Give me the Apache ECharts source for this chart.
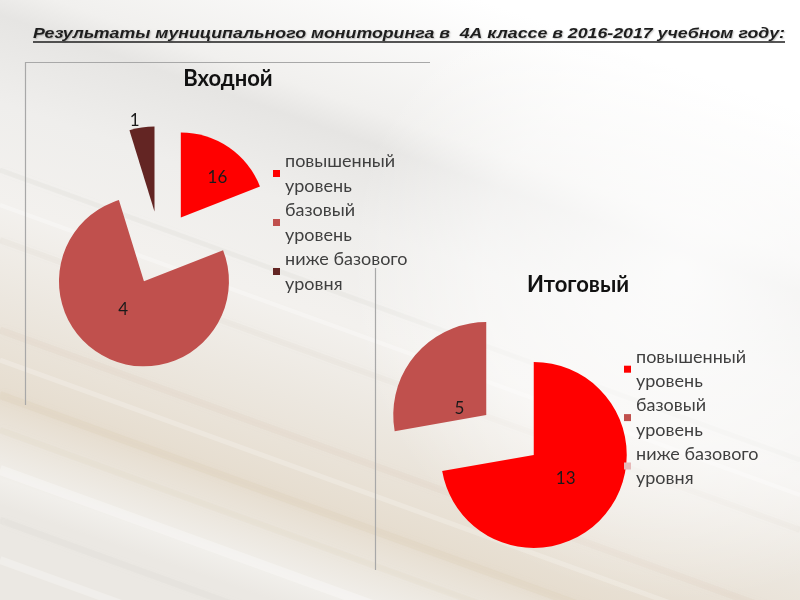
<!DOCTYPE html>
<html>
<head>
<meta charset="utf-8">
<script src="https://cdn.jsdelivr.net/npm/echarts@6/dist/echarts.min.js"></script>
<style>html,body{margin:0;padding:0;}#c{width:800px;height:600px;}</style>
</head>
<body>
<div id="c"></div>
<script>
// ---- data ----
const categories = ['повышенный уровень', 'базовый уровень', 'ниже базового уровня'];
// "Входной": slice sizes as drawn in the picture (the printed labels differ from the drawn sizes)
const inputSliceValues = [4, 16, 1];
const inputLabels = ['16', '4', '1'];
// "Итоговый"
const finalValues = [13, 5, 0];
const finalLabels = ['13', '5', '0'];
const chartTitle = 'Результаты муниципального мониторинга в  4А классе в 2016-2017 учебном году:';
const pieTitles = ['Входной', 'Итоговый'];

// ---- styles ----
const colors1 = ['#ff0000', '#c0504d', '#632523'];
const colors2 = ['#ff0000', '#c0504d', '#e6b9b8'];
const labelOffsets1 = [[11, -2], [-1, -13], [3, -5]];
const labelOffsets2 = [[-6, -8], [11, 25], [0, 0]];
const legendFont = 'Lato, "Open Sans", sans-serif';

function legendName(n) { const i = n.lastIndexOf(' '); return n.slice(0, i) + '\n' + n.slice(i + 1); }

function pieData(values, labels, colors, outsideIdx) {
  return values.map((v, i) => ({
    name: categories[i],
    value: v,
    selected: true,
    itemStyle: { color: colors[i] },
    label: {
      show: v > 0,
      position: i === outsideIdx ? 'outside' : 'inside',
      formatter: labels[i]
    },
    labelLine: { show: false, length: 2, length2: 0 }
  }));
}
function layoutFn(offsets) {
  return function (p) { const o = offsets[p.dataIndex] || [0, 0]; return { dx: o[0], dy: o[1] }; };
}

// measure title to stretch to its width in the picture
const cv = document.createElement('canvas').getContext('2d');
const titleFont = 'italic bold 15px "Liberation Sans", Arial, sans-serif';
cv.font = titleFont;
const tw = cv.measureText(chartTitle).width;
const titleScale = 752 / tw;

// soft streaks for the background texture
const streaks = [];
const streakDefs = [
  [170, 5, 'rgba(200,195,188,0.14)'], [205, 4, 'rgba(255,255,255,0.3)'], [240, 6, 'rgba(205,198,188,0.13)'],
  [330, 7, 'rgba(215,200,178,0.16)'], [360, 5, 'rgba(255,255,255,0.22)'], [395, 8, 'rgba(215,198,172,0.18)'],
  [430, 6, 'rgba(222,208,186,0.18)'], [470, 10, 'rgba(255,255,255,0.28)'], [520, 7, 'rgba(210,205,198,0.15)'],
  [560, 8, 'rgba(255,255,255,0.25)']
];
streakDefs.forEach(d => {
  streaks.push({ type: 'line', silent: true, z: -10,
    shape: { x1: 0, y1: d[0], x2: 800, y2: d[0] + 290 },
    style: { stroke: d[2], lineWidth: d[1], shadowBlur: 8, shadowColor: d[2] } });
});

const chart = echarts.init(document.getElementById('c'), null, { renderer: 'canvas' });
const baseLabel = { color: '#1a1a1a', fontSize: 17, fontFamily: legendFont };
const option = {
  animation: false,
  backgroundColor: {
    type: 'linear', x: 0.6, y: 0, x2: 0.34, y2: 1,
    colorStops: [
      { offset: 0, color: '#ffffff' },
      { offset: 0.22, color: '#f1f0ee' },
      { offset: 0.27, color: '#e6e5e3' },
      { offset: 0.4, color: '#efeeec' },
      { offset: 0.55, color: '#f3f1ee' },
      { offset: 0.69, color: '#ece7df' },
      { offset: 0.84, color: '#e6ddcf' },
      { offset: 0.96, color: '#f1efeb' },
      { offset: 1, color: '#ebe8e3' }
    ]
  },
  graphic: [
    { type: 'rect', silent: true, z: -9, shape: { x: 0, y: 0, width: 800, height: 600 },
      style: { fill: { type: 'radial', x: 0.85, y: 0.45, r: 0.55, colorStops: [{ offset: 0, color: 'rgba(255,255,255,0.85)' }, { offset: 0.6, color: 'rgba(255,255,255,0.5)' }, { offset: 1, color: 'rgba(255,255,255,0)' }] } } },
    ...streaks,
    // frame lines
    { type: 'line', silent: true, shape: { x1: 25, y1: 62.5, x2: 430, y2: 62.5 }, style: { stroke: '#a8a8a8', lineWidth: 1.2 } },
    { type: 'line', silent: true, shape: { x1: 25.5, y1: 62, x2: 25.5, y2: 405 }, style: { stroke: '#a8a8a8', lineWidth: 1.2 } },
    { type: 'line', silent: true, shape: { x1: 375.5, y1: 268, x2: 375.5, y2: 570 }, style: { stroke: '#a8a8a8', lineWidth: 1.2 } },
    // main title
    { type: 'text', silent: true, x: 33, y: 34, scaleX: titleScale, originX: 0,
      style: { text: chartTitle, font: titleFont, fill: '#1e1e1e', textVerticalAlign: 'middle', textShadowColor: 'rgba(0,0,0,0.22)', textShadowOffsetX: 1, textShadowOffsetY: 1, textShadowBlur: 1.5 } },
    { type: 'line', silent: true, shape: { x1: 33, y1: 42, x2: 785, y2: 42 }, style: { stroke: '#1e1e1e', lineWidth: 1.3 } },
    // pie titles
    { type: 'text', silent: true, x: 228, y: 79, style: { text: pieTitles[0], font: 'bold 22px ' + legendFont, fill: '#111', textAlign: 'center', textVerticalAlign: 'middle' } },
    { type: 'text', silent: true, x: 578, y: 285, style: { text: pieTitles[1], font: 'bold 22px ' + legendFont, fill: '#111', textAlign: 'center', textVerticalAlign: 'middle' } }
  ],
  legend: [
    {
      orient: 'vertical', left: 268, top: 144, itemGap: 0, icon: 'rect', itemWidth: 7, itemHeight: 7,
      selectedMode: false,
      data: categories.map((c, i) => ({ name: c, itemStyle: { color: colors1[i] } })),
      formatter: legendName,
      textStyle: { fontSize: 18, lineHeight: 24.5, color: '#3f3f3f', fontFamily: legendFont }
    },
    {
      orient: 'vertical', left: 619, top: 340, itemGap: 0, icon: 'rect', itemWidth: 7, itemHeight: 7,
      selectedMode: false,
      data: categories.map((c, i) => ({ name: c, itemStyle: { color: colors2[i] } })),
      formatter: legendName,
      textStyle: { fontSize: 18, lineHeight: 24.2, color: '#3f3f3f', fontFamily: legendFont }
    }
  ],
  series: [
    {
      type: 'pie', center: [160, 248], radius: [0, 85], startAngle: 90, clockwise: true,
      selectedMode: 'multiple', selectedOffset: 37, avoidLabelOverlap: false,
      emphasis: { disabled: true }, silent: true,
      label: baseLabel,
      labelLayout: layoutFn(labelOffsets1),
      data: pieData(inputSliceValues, inputLabels, colors1, 2)
    },
    {
      type: 'pie', center: [510, 435], radius: [0, 93], startAngle: 90, clockwise: true,
      selectedMode: 'multiple', selectedOffset: 31, avoidLabelOverlap: false,
      emphasis: { disabled: true }, silent: true, stillShowZeroSum: false,
      label: baseLabel,
      labelLayout: layoutFn(labelOffsets2),
      data: pieData(finalValues, finalLabels, colors2, -1)
    }
  ]
};
chart.setOption(option);
</script>
</body>
</html>
